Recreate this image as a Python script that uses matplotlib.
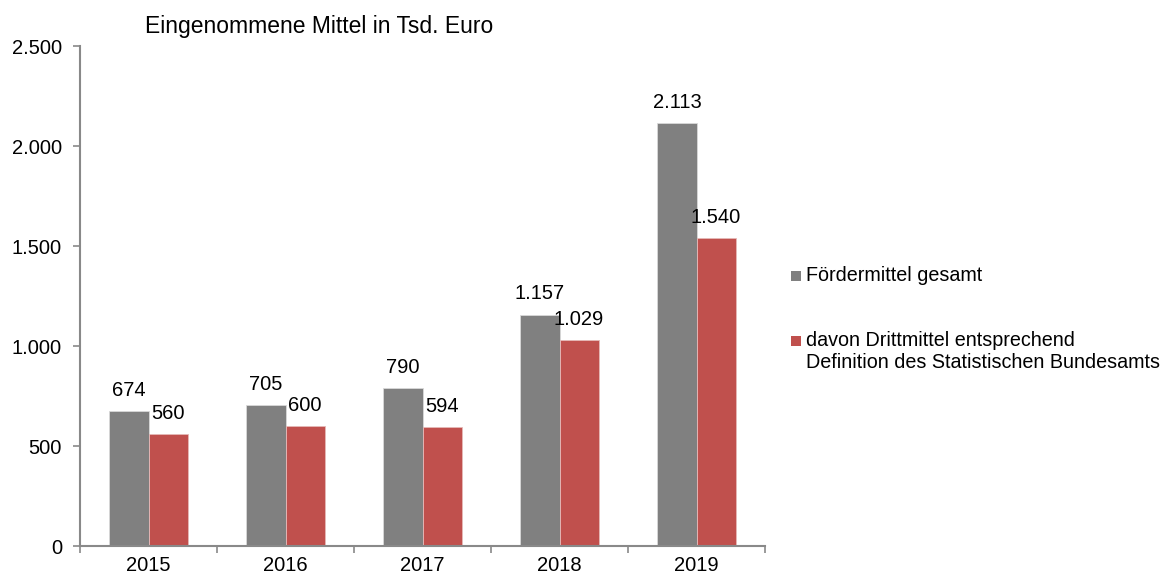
import matplotlib
matplotlib.use("Agg")
import matplotlib.pyplot as plt
from matplotlib.ticker import FuncFormatter
from matplotlib.patches import Rectangle
import numpy as np

plt.rcParams['font.family'] = ['Liberation Sans', 'DejaVu Sans']

years = ["2015", "2016", "2017", "2018", "2019"]
foerder = [674, 705, 790, 1157, 2113]
dritt = [560, 600, 594, 1029, 1540]
series_names = ["Fördermittel gesamt",
                "davon Drittmittel entsprechend\nDefinition des Statistischen Bundesamts"]
colors = ["#808080", "#C0504D"]
title = "Eingenommene Mittel in Tsd. Euro"

def de(v):
    return f"{int(v):,}".replace(",", ".")

W, H = 1161, 577
fig = plt.figure(figsize=(W/100, H/100), dpi=100)
ax = fig.add_axes([80/W, 31/H, 685/W, 500/H])

x = np.arange(len(years))
w = 0.285
b1 = ax.bar(x - w/2, foerder, w, color=colors[0], edgecolor="#d9d9d9", linewidth=0.6)
b2 = ax.bar(x + w/2, dritt, w, color=colors[1], edgecolor="#e6b9b8", linewidth=0.6)

for bars, vals in ((b1, foerder), (b2, dritt)):
    for r, v in zip(bars, vals):
        ax.annotate(de(v), (r.get_x() + r.get_width()/2, v), xytext=(0, 8),
                    textcoords="offset points", ha="center", va="bottom", fontsize=14.5)

ax.set_xlim(-0.5, len(years) - 0.5)
ax.set_ylim(0, 2500)
ax.set_yticks(np.arange(0, 2501, 500))
ax.yaxis.set_major_formatter(FuncFormatter(lambda v, p: de(v)))
ax.set_xticks(np.arange(-0.5, len(years), 1.0))
ax.set_xticklabels([])
ax.set_xticks(x, minor=True)
ax.set_xticklabels(years, minor=True)
ax.tick_params(axis="x", which="minor", length=0, labelsize=14.5, pad=7)
ax.tick_params(axis="x", which="major", length=5, color="#898989", width=1.2)
ax.tick_params(axis="y", length=5, color="#898989", width=1.2, labelsize=14.5, pad=8)

for s in ("top", "right"):
    ax.spines[s].set_visible(False)
for s in ("left", "bottom"):
    ax.spines[s].set_color("#898989")
    ax.spines[s].set_linewidth(1.5)

fig.text(145/W, 1 - 27/H, title, fontsize=16.5, va="center", ha="left")

# legend (manual, handle aligned with first text line)
sq = 10
leg_items = [(series_names[0], colors[0], 275.5, 275.5),
             (series_names[1], colors[1], 341, 351.5)]
for label, col, sq_y, txt_y in leg_items:
    fig.patches.append(Rectangle((791/W, 1 - (sq_y + sq/2)/H), sq/W, sq/H,
                                 transform=fig.transFigure, facecolor=col,
                                 edgecolor="none"))
    fig.text(806/W, 1 - txt_y/H, label, fontsize=14.2, va="center", ha="left",
             linespacing=1.15)

fig.savefig("out.png", dpi=100)
